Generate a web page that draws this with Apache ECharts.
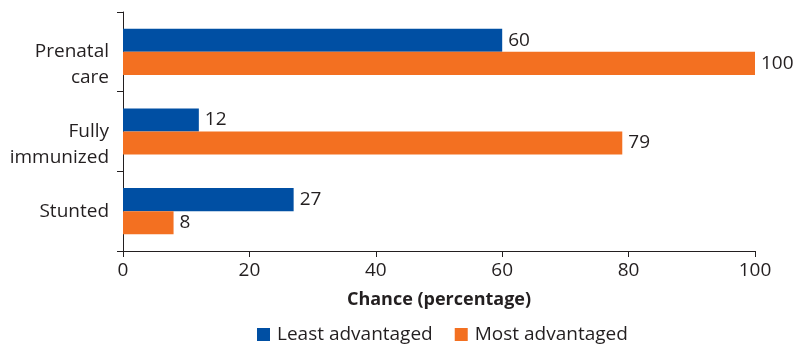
<!DOCTYPE html>
<html>
<head>
<meta charset="utf-8">
<script src="https://cdn.jsdelivr.net/npm/echarts@6/dist/echarts.min.js"></script>
<style>
  html, body { margin: 0; padding: 0; background: #fff; }
  #chart { width: 795px; height: 345px; }
</style>
</head>
<body>
<div id="chart"></div>
<script>
// Indicators, top to bottom
const categories = ['Prenatal\ncare', 'Fully\nimmunized', 'Stunted'];
const leastAdvantaged = [60, 12, 27];
const mostAdvantaged = [100, 79, 8];
const xTicks = [0, 20, 40, 60, 80, 100];

const ink = '#231f20';
const fontFamily = '"Open Sans", "Noto Sans", sans-serif';
const fontSize = 19;

const chart = echarts.init(document.getElementById('chart'), null, { renderer: 'canvas' });

const valueLabel = {
  show: true,
  position: 'right',
  distance: 6,
  color: ink,
  fontSize: fontSize,
  fontFamily: fontFamily
};

chart.setOption({
  animation: false,
  backgroundColor: '#ffffff',
  textStyle: { fontFamily: fontFamily, color: ink },
  grid: { left: 123, right: 40, top: 12, bottom: 94, containLabel: false },
  legend: {
    top: 320,
    left: 252,
    itemWidth: 13,
    itemHeight: 13,
    itemGap: 22,
    icon: 'rect',
    textStyle: { fontSize: fontSize, color: ink, fontFamily: fontFamily, padding: [0, 0, 0, 2] },
    data: ['Least advantaged', 'Most advantaged']
  },
  xAxis: {
    type: 'value',
    min: xTicks[0],
    max: xTicks[xTicks.length - 1],
    interval: xTicks[1] - xTicks[0],
    name: 'Chance (percentage)',
    nameLocation: 'middle',
    nameGap: 40,
    nameTextStyle: { fontSize: 18, fontWeight: 'bold', color: ink, fontFamily: fontFamily },
    axisLine: { show: true, lineStyle: { color: ink, width: 1 } },
    axisTick: { show: true, length: 6, lineStyle: { color: ink } },
    axisLabel: { fontSize: fontSize, color: ink, margin: 10, fontFamily: fontFamily },
    splitLine: { show: false }
  },
  yAxis: {
    type: 'category',
    inverse: true,
    data: categories,
    axisLine: { show: true, lineStyle: { color: ink, width: 1 } },
    axisTick: { show: true, length: 6, alignWithLabel: false, lineStyle: { color: ink } },
    axisLabel: {
      fontSize: fontSize,
      color: ink,
      margin: 14,
      lineHeight: 26,
      align: 'right',
      fontFamily: fontFamily,
      // two-line names start at the band centre and run downward
      formatter: function (v) { return v.indexOf('\n') >= 0 ? ' \n' + v : v; }
    }
  },
  series: [
    {
      name: 'Least advantaged',
      type: 'bar',
      data: leastAdvantaged,
      itemStyle: { color: '#004fa3' },
      barGap: '0%',
      barCategoryGap: '42%',
      label: valueLabel
    },
    {
      name: 'Most advantaged',
      type: 'bar',
      data: mostAdvantaged,
      itemStyle: { color: '#f37021' },
      barGap: '0%',
      barCategoryGap: '42%',
      label: valueLabel
    }
  ]
});
</script>
</body>
</html>
